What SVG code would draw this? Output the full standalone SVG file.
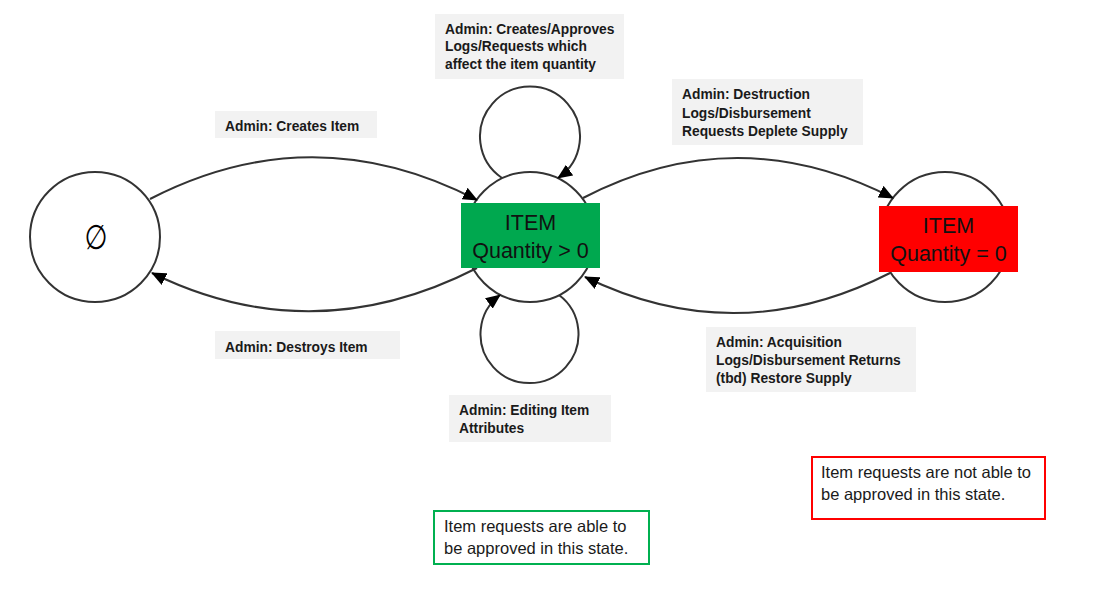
<svg xmlns="http://www.w3.org/2000/svg" width="1103" height="592" viewBox="0 0 1103 592">
<style>
.st{fill:#fff;stroke:#333;stroke-width:2}
.ed{fill:none;stroke:#333;stroke-width:2;marker-end:url(#ah)}
.lb{fill:#f2f2f2}
.lt{font-family:"Liberation Sans",Arial,sans-serif;font-size:13.8px;font-weight:bold;fill:#1a1a1a}
.bt{font-family:"Liberation Sans",Arial,sans-serif;font-size:21.5px;fill:#111;text-anchor:middle}
.nt{font-family:"Liberation Sans",Arial,sans-serif;font-size:16.5px;fill:#1a1a1a}
</style>
<defs>
<marker id="ah" markerWidth="15" markerHeight="13" refX="14" refY="6.5" orient="auto" markerUnits="userSpaceOnUse">
<path d="M0,0 L15,6.5 L0,13 Z" fill="#000"/>
</marker>
</defs>
<rect width="1103" height="592" fill="#fff"/>
<g id="empty">
<circle class="st" cx="95" cy="237" r="65"/>
<text transform="translate(96 249) scale(0.85 1.1)" x="0" y="0" style="font-family:'DejaVu Sans',sans-serif;font-size:31px;text-anchor:middle;fill:#000">∅</text>
</g>
<g id="item-positive">
<circle class="st" cx="530" cy="237" r="65"/>
</g>
<g id="item-zero">
<circle class="st" cx="945" cy="237" r="65"/>
</g>
<g id="connectors">
<path class="ed" d="M150 199 Q313 115 477 200"/>
<path class="ed" d="M477 268 Q313 352 152 273"/>
<path class="ed" d="M583 198 Q737 118 893 198"/>
<path class="ed" d="M890 273 Q737 351 585 277"/>
<path class="ed" d="M502 178 A50 50 0 1 1 558 178"/>
<path class="ed" d="M559 295 A49 49 0 1 1 500 295"/>
</g>
<g id="item-positive-box">
<rect x="461" y="203" width="139" height="65" fill="#00a84f"/>
<text class="bt" x="530.5" y="230">ITEM</text>
<text class="bt" x="530.5" y="258">Quantity &gt; 0</text>
</g>
<g id="item-zero-box">
<rect x="879" y="206" width="139" height="66" fill="#ff0000"/>
<text class="bt" x="948.5" y="233">ITEM</text>
<text class="bt" x="948.5" y="261">Quantity = 0</text>
</g>
<g id="label-approves">
<rect class="lb" x="435" y="14" width="189" height="65"/>
<text class="lt" x="445" y="33.5">Admin: Creates/Approves</text>
<text class="lt" x="445" y="51">Logs/Requests which</text>
<text class="lt" x="445" y="69">affect the item quantity</text>
</g>
<g id="label-creates">
<rect class="lb" x="215" y="111" width="162" height="27"/>
<text class="lt" x="225" y="131">Admin: Creates Item</text>
</g>
<g id="label-destroys">
<rect class="lb" x="215" y="331" width="185" height="28"/>
<text class="lt" x="225" y="351.5">Admin: Destroys Item</text>
</g>
<g id="label-deplete">
<rect class="lb" x="672" y="79" width="191" height="66"/>
<text class="lt" x="682" y="99">Admin: Destruction</text>
<text class="lt" x="682" y="117.5">Logs/Disbursement</text>
<text class="lt" x="682" y="136">Requests Deplete Supply</text>
</g>
<g id="label-restore">
<rect class="lb" x="706" y="327" width="210" height="65"/>
<text class="lt" x="716" y="346.5">Admin: Acquisition</text>
<text class="lt" x="716" y="364.5">Logs/Disbursement Returns</text>
<text class="lt" x="716" y="383">(tbd) Restore Supply</text>
</g>
<g id="label-editing">
<rect class="lb" x="449" y="395" width="162" height="47"/>
<text class="lt" x="459" y="415">Admin: Editing Item</text>
<text class="lt" x="459" y="432.5">Attributes</text>
</g>
<g id="note-able">
<rect x="434" y="511" width="215" height="53" fill="#fff" stroke="#00b050" stroke-width="2"/>
<text class="nt" x="444" y="532">Item requests are able to</text>
<text class="nt" x="444" y="554">be approved in this state.</text>
</g>
<g id="note-not-able">
<rect x="812" y="457" width="233" height="62" fill="#fff" stroke="#ff0000" stroke-width="2"/>
<text class="nt" x="821" y="478">Item requests are not able to</text>
<text class="nt" x="821" y="500">be approved in this state.</text>
</g>
</svg>
